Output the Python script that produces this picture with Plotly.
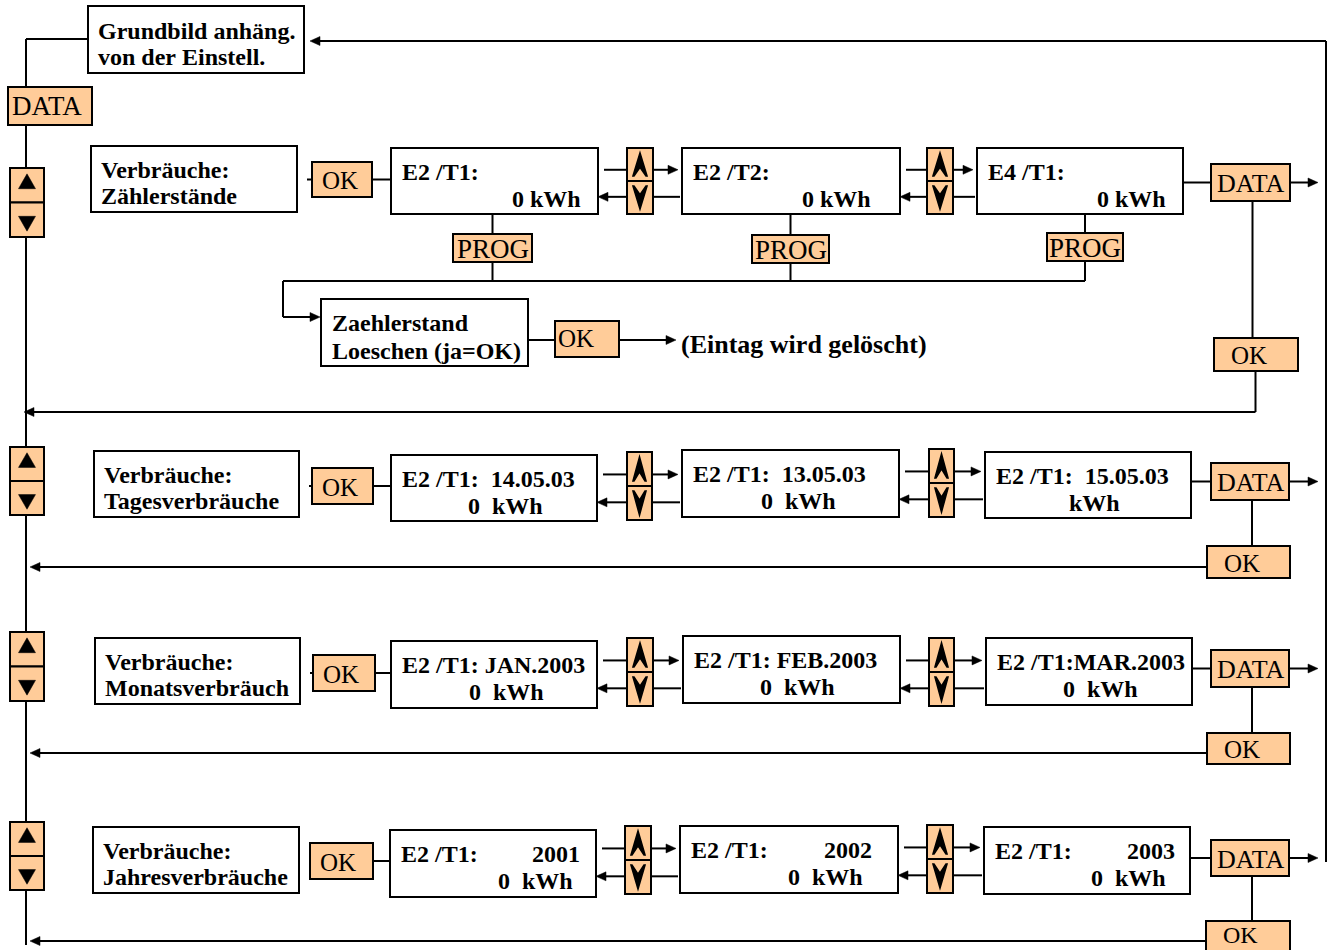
import plotly.graph_objects as go

# ---------------- content (texts) ----------------
header_lines = ["Grundbild anhäng.", "von der Einstell."]
menu_heading = "Verbräuche:"
menu_names = ["Zählerstände", "Tagesverbräuche", "Monatsverbräuch", "Jahresverbräuche"]
screen_heads = [
    ["E2 /T1:", "E2 /T2:", "E4 /T1:"],
    ["E2 /T1:  14.05.03", "E2 /T1:  13.05.03", "E2 /T1:  15.05.03"],
    ["E2 /T1: JAN.2003", "E2 /T1: FEB.2003", "E2 /T1:MAR.2003"],
    ["E2 /T1:", "E2 /T1:", "E2 /T1:"],
]
screen_years = [None, None, None, ["2001", "2002", "2003"]]
screen_readings = [
    ["0 kWh", "0 kWh", "0 kWh"],
    ["0  kWh", "0  kWh", "kWh"],
    ["0  kWh", "0  kWh", "0  kWh"],
    ["0  kWh", "0  kWh", "0  kWh"],
]
clear_lines = ["Zaehlerstand", "Loeschen (ja=OK)"]
clear_note = "(Eintag wird gelöscht)"
key_data, key_ok, key_prog = "DATA", "OK", "PROG"

# ---------------- layout geometry (pixels) ----------------
FILL = "#FFCC99"
FONT = "Liberation Serif"
LW = 2

ROWS = [
    dict(ud=(10, 168, 44, 237), menu=(91, 146, 297, 212), ok=(312, 162, 372, 197),
         scr=[(391, 148, 598, 214), (682, 148, 900, 214), (977, 148, 1183, 214)],
         mid=[(627, 148, 653, 214), (927, 148, 953, 214)],
         data=(1211, 164, 1290, 201), okr=(1214, 338, 1298, 371), ret=412,
         rd=[15, 27, 15], yr=[14, 24, 13]),
    dict(ud=(10, 447, 44, 515), menu=(94, 451, 299, 517), ok=(312, 468, 373, 504),
         scr=[(391, 455, 597, 521), (682, 450, 899, 517), (985, 452, 1191, 518)],
         mid=[(627, 452, 652, 520), (929, 449, 954, 517)],
         data=(1211, 463, 1289, 500), okr=(1207, 546, 1290, 578), ret=567,
         rd=[52, 61, 69], yr=[14, 24, 13]),
    dict(ud=(10, 632, 44, 701), menu=(95, 638, 300, 704), ok=(313, 655, 375, 691),
         scr=[(391, 641, 597, 708), (683, 636, 900, 703), (986, 638, 1192, 705)],
         mid=[(627, 638, 653, 706), (929, 638, 954, 706)],
         data=(1211, 650, 1289, 687), okr=(1207, 733, 1290, 764), ret=753,
         rd=[51, 63, 52], yr=[14, 24, 13]),
    dict(ud=(10, 822, 44, 890), menu=(93, 827, 299, 893), ok=(310, 843, 373, 879),
         scr=[(390, 830, 596, 897), (680, 826, 898, 893), (984, 827, 1190, 894)],
         mid=[(625, 826, 651, 894), (927, 825, 953, 893)],
         data=(1211, 840, 1289, 876), okr=(1206, 921, 1290, 955), ret=941,
         rd=[21, 33, 22], yr=[14, 24, 13]),
]

lines, boxes, marks, notes = [], [], [], []


def line(x0, y0, x1, y1):
    lines.append(dict(type="line", x0=x0, y0=y0, x1=x1, y1=y1,
                      line=dict(color="black", width=LW), layer="above"))


def box(b, fill="white"):
    boxes.append(dict(type="rect", x0=b[0], y0=b[1], x1=b[2], y1=b[3],
                      fillcolor=fill, line=dict(color="black", width=LW), layer="above"))


def poly(pts, lw=0.5):
    p = "M " + " L ".join(f"{x},{y}" for x, y in pts) + " Z"
    marks.append(dict(type="path", path=p, fillcolor="black",
                      line=dict(color="black", width=lw), layer="above"))


def head(x, y, d):
    L, W = 10, 4.5
    if d == "r":
        poly([(x, y), (x - L, y - W), (x - L, y + W)])
    else:
        poly([(x, y), (x + L, y - W), (x + L, y + W)])


def arrow(x0, y, x1):
    d = "r" if x1 > x0 else "l"
    line(x0, y, x1 + (-6 if d == "r" else 6), y)
    head(x1, y, d)


def text(x, y, s, size=24, bold=True, anchor="left"):
    s = s.replace(" ", "\u00a0")
    if bold:
        s = "<b>" + s + "</b>"
    notes.append(dict(x=x, y=y, text=s, showarrow=False, xref="x", yref="y",
                      xanchor=anchor, yanchor="middle",
                      font=dict(family=FONT, size=size, color="black")))


def key_box(b, label, size=26, anchor="center", dx=0, dy=1):
    box(b, FILL)
    if anchor == "center":
        text((b[0] + b[2]) / 2 + dx, (b[1] + b[3]) / 2 + dy, label, size, bold=False, anchor="center")
    else:
        text(b[0] + dx, (b[1] + b[3]) / 2 + dy, label, size, bold=False, anchor="left")


def updown_solid(b):
    x0, y0, x1, y1 = b
    ym = (y0 + y1) / 2
    box((x0, y0, x1, ym), FILL)
    box((x0, ym, x1, y1), FILL)
    cx = (x0 + x1) / 2
    h = ym - y0
    poly([(cx, y0 + 0.17 * h), (cx - 8.5, y0 + 0.6 * h), (cx + 8.5, y0 + 0.6 * h)])
    poly([(cx, y1 - 0.17 * h), (cx - 8.5, y1 - 0.6 * h), (cx + 8.5, y1 - 0.6 * h)])


def updown_chevron(b):
    x0, y0, x1, y1 = b
    ym = (y0 + y1) / 2
    box((x0, y0, x1, ym), FILL)
    box((x0, ym, x1, y1), FILL)
    cx = (x0 + x1) / 2
    xl, xr = x0 + 6, x1 - 6
    # up chevron (barbed)
    t, bt = y0 + 5, ym - 5
    n = t + 0.62 * (bt - t)
    poly([(cx, t), (xr, bt), (xr - 1, bt), (cx, n), (xl + 1, bt), (xl, bt)], lw=1.6)
    # down chevron
    t, bt = y1 - 5, ym + 5
    n = t - 0.62 * (t - bt)
    poly([(cx, t), (xr, bt), (xr - 1, bt), (cx, n), (xl + 1, bt), (xl, bt)], lw=1.6)


# ---------------- header ----------------
gb = (88, 6, 304, 73)
line(88, 39, 26, 39)
line(26, 39, 26, 87)
line(26, 125, 26, 945)           # left spine
line(1326, 41, 1326, 862)        # right spine
arrow(1326, 41, 310)             # back to Grundbild
box(gb)
text(96, 31, header_lines[0])
text(96, 57, header_lines[1])
key_box((8, 87, 92, 125), key_data, 27, anchor="left", dx=2, dy=0)

# ---------------- rows ----------------
for i, R in enumerate(ROWS):
    updown_solid(R["ud"])
    mb = R["menu"]
    box(mb)
    text(mb[0] + 8, mb[1] + 24, menu_heading)
    text(mb[0] + 8, mb[1] + 50, menu_names[i])
    ok = R["ok"]
    oy = (ok[1] + ok[3]) / 2
    line(mb[2] + 10, oy, ok[0], oy)
    key_box(ok, key_ok, 25, anchor="left", dx=8)
    s0 = R["scr"][0]
    line(ok[2], oy, s0[0], oy)
    for j, s in enumerate(R["scr"]):
        box(s)
        text(s[0] + 9, s[1] + 23.5, screen_heads[i][j])
        if screen_years[i]:
            text(s[2] - R["yr"][j], s[1] + 23.5, screen_years[i][j], anchor="right")
        text(s[2] - R["rd"][j], s[1] + 50.5, screen_readings[i][j], anchor="right")
    for j, m in enumerate(R["mid"]):
        prev, nxt = R["scr"][j], R["scr"][j + 1]
        h = m[3] - m[1]
        yt, yb = m[1] + 0.33 * h, m[1] + 0.74 * h
        line(prev[2] + 6, yt, m[0], yt)
        arrow(m[2], yt, nxt[0] - 4)
        line(nxt[0] - 2, yb, m[2], yb)
        arrow(m[0], yb, prev[2])
        updown_chevron(m)
    d = R["data"]
    dy = (d[1] + d[3]) / 2
    s2 = R["scr"][2]
    line(s2[2], dy, d[0], dy)
    arrow(d[2], dy, 1318)
    dcx = (d[0] + d[2]) / 2 + 2
    okr = R["okr"]
    line(dcx, d[3], dcx, okr[1])
    if i == 0:
        line(dcx + 3, okr[3], dcx + 3, R["ret"])
        arrow(dcx + 3, R["ret"], 24)
    else:
        arrow(okr[0], R["ret"], 30)
    key_box(d, key_data, 26)
    if i == len(ROWS) - 1:
        key_box(okr, key_ok, 24, anchor="left", dx=15, dy=-3)
    else:
        key_box(okr, key_ok, 25, anchor="left", dx=15)

# ---------------- PROG / clear counter branch ----------------
prog_boxes = [(453, 234, 532, 262), (752, 235, 829, 263), (1047, 233, 1123, 261)]
for j, p in enumerate(prog_boxes):
    s = ROWS[0]["scr"][j]
    cx = (p[0] + p[2]) / 2
    line(cx, s[3], cx, p[1])
    line(cx, p[3], cx, 281)
    key_box(p, key_prog, 27)
line(283, 281, (prog_boxes[2][0] + prog_boxes[2][2]) / 2, 281)
line(283, 281, 283, 317)
arrow(283, 317, 320)
cb = (321, 299, 528, 366)
box(cb)
text(330, 323, clear_lines[0])
text(330, 351, clear_lines[1])
cok = (555, 321, 619, 357)
line(528, 340, 555, 340)
box(cok, FILL)
text(556, 338, key_ok, 25, bold=False)
arrow(619, 340, 676)
text(679, 344, clear_note, 26)

fig = go.Figure()
fig.update_layout(
    width=1333, height=950,
    margin=dict(l=0, r=0, t=0, b=0),
    paper_bgcolor="white", plot_bgcolor="white",
    xaxis=dict(range=[0, 1333], visible=False, fixedrange=True),
    yaxis=dict(range=[950, 0], visible=False, fixedrange=True),
    shapes=lines + boxes + marks,
    annotations=notes,
    showlegend=False,
)
fig.write_html("out.html", config=dict(displayModeBar=False),
               post_script="document.body.style.margin='0';document.body.style.overflow='hidden';")
